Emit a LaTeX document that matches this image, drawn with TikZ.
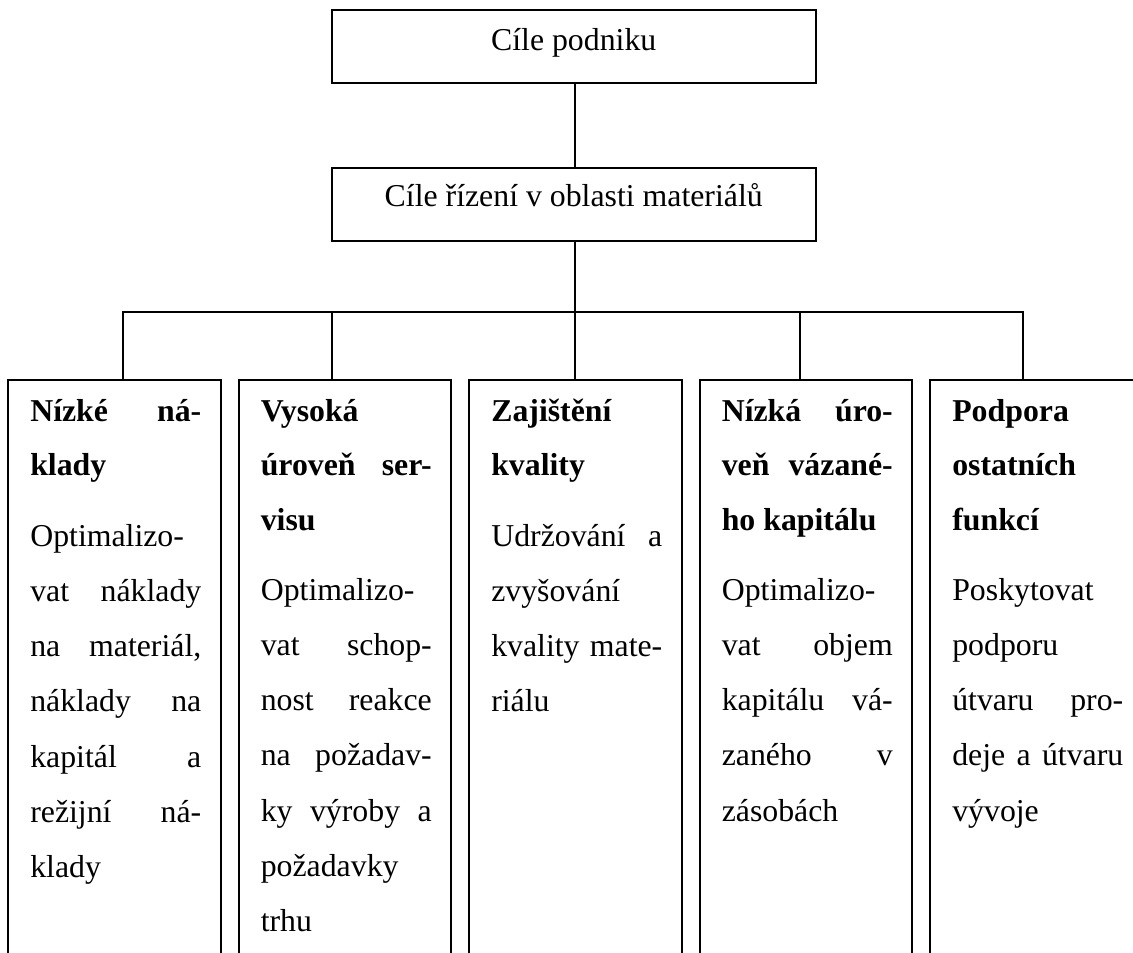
\documentclass[tikz,border=0pt]{standalone}
\usepackage{fontspec}
\setmainfont{Liberation Serif}
\newcommand{\fullln}[1]{\makebox[\linewidth][s]{#1}\par}
\newcommand{\leftln}[1]{\makebox[\linewidth][l]{#1}\par}
\newcommand{\headfont}{\fontsize{31.8}{54.5}\selectfont\bfseries}
\newcommand{\bodyfont}{\fontsize{31.8}{55.3}\selectfont}
\begin{document}
\begin{tikzpicture}[x=1pt,y=-1pt,line width=2pt,
  frame/.style={draw=black, rectangle, inner sep=0pt, outer sep=0pt},
  goalbox/.style={frame, minimum width=484pt, minimum height=73.2pt},
  colbox/.style={frame, anchor=north west, minimum width=212.5pt, minimum height=700pt},
  toptext/.style={inner sep=0pt, anchor=base, font=\fontsize{31.8}{38}\selectfont},
  coltext/.style={inner sep=0pt, anchor=base west},
  conn/.style={draw=black, line width=2pt}
]
\useasboundingbox (0,0) rectangle (1133,953);
\fill[white] (0,0) rectangle (1133,953);
\begin{scope}
\clip (0,0) rectangle (1133,953);
% top boxes
\node[goalbox] (goal) at (573.7,46.65) {};
\node[toptext] (goaltxt) at (573.7,50.7) {Cíle podniku};
\node[goalbox] (mat) at (573.7,204.2) {};
\node[toptext] (mattxt) at (573.7,206.7) {Cíle řízení v oblasti materiálů};
% column boxes
\node[colbox] (b1) at (8,380) {};
\node[colbox] (b2) at (238.5,380) {};
\node[colbox] (b3) at (469,380) {};
\node[colbox] (b4) at (699.5,380) {};
\node[colbox] (b5) at (930,380) {};
% connector points
\coordinate (bus) at (0,311.7);
\coordinate (d1) at (123.3,380);
\coordinate (d2) at (331.7,380);
\coordinate (d3) at (575,380);
\coordinate (d4) at (800,380);
\coordinate (d5) at (1023.3,380);
\draw[conn] (d3 |- goal.south) -- (d3 |- mat.north);
\draw[conn] (d3 |- mat.south) -- (d3 |- bus);
\draw[conn] (d1) -- (d1 |- bus) -- (d5 |- bus) -- (d5);
\foreach \i in {2,3,4} \draw[conn] (d\i |- bus) -- (d\i);
% column 1
\node[coltext] (h1) at (29.3,421) {\parbox[t]{171pt}{\headfont
  \fullln{Nízké ná-}\leftln{klady}}};
\node[coltext] (p1) at (29.3,546) {\parbox[t]{171pt}{\bodyfont
  \leftln{Optimalizo-}\fullln{vat náklady}\fullln{na materiál,}\fullln{náklady na}\fullln{kapitál a}\fullln{režijní ná-}\leftln{klady}}};
% column 2
\node[coltext] (h2) at (259.8,421) {\parbox[t]{171pt}{\headfont
  \leftln{Vysoká}\fullln{úroveň ser-}\leftln{visu}}};
\node[coltext] (p2) at (259.8,600) {\parbox[t]{171pt}{\bodyfont
  \leftln{Optimalizo-}\fullln{vat schop-}\fullln{nost reakce}\fullln{na požadav-}\fullln{ky výroby a}\leftln{požadavky}\leftln{trhu}}};
% column 3
\node[coltext] (h3) at (490.3,421) {\parbox[t]{171pt}{\headfont
  \leftln{Zajištění}\leftln{kvality}}};
\node[coltext] (p3) at (490.3,546) {\parbox[t]{171pt}{\bodyfont
  \fullln{Udržování a}\leftln{zvyšování}\fullln{kvality mate-}\leftln{riálu}}};
% column 4
\node[coltext] (h4) at (720.8,421) {\parbox[t]{171pt}{\headfont
  \fullln{Nízká úro-}\fullln{veň vázané-}\leftln{ho kapitálu}}};
\node[coltext] (p4) at (720.8,600) {\parbox[t]{171pt}{\bodyfont
  \leftln{Optimalizo-}\fullln{vat objem}\fullln{kapitálu vá-}\fullln{zaného v}\leftln{zásobách}}};
% column 5
\node[coltext] (h5) at (951.3,421) {\parbox[t]{171pt}{\headfont
  \leftln{Podpora}\leftln{ostatních}\leftln{funkcí}}};
\node[coltext] (p5) at (951.3,600) {\parbox[t]{171pt}{\bodyfont
  \leftln{Poskytovat}\leftln{podporu}\fullln{útvaru pro-}\fullln{deje a útvaru}\leftln{vývoje}}};
\end{scope}
\end{tikzpicture}
\end{document}
